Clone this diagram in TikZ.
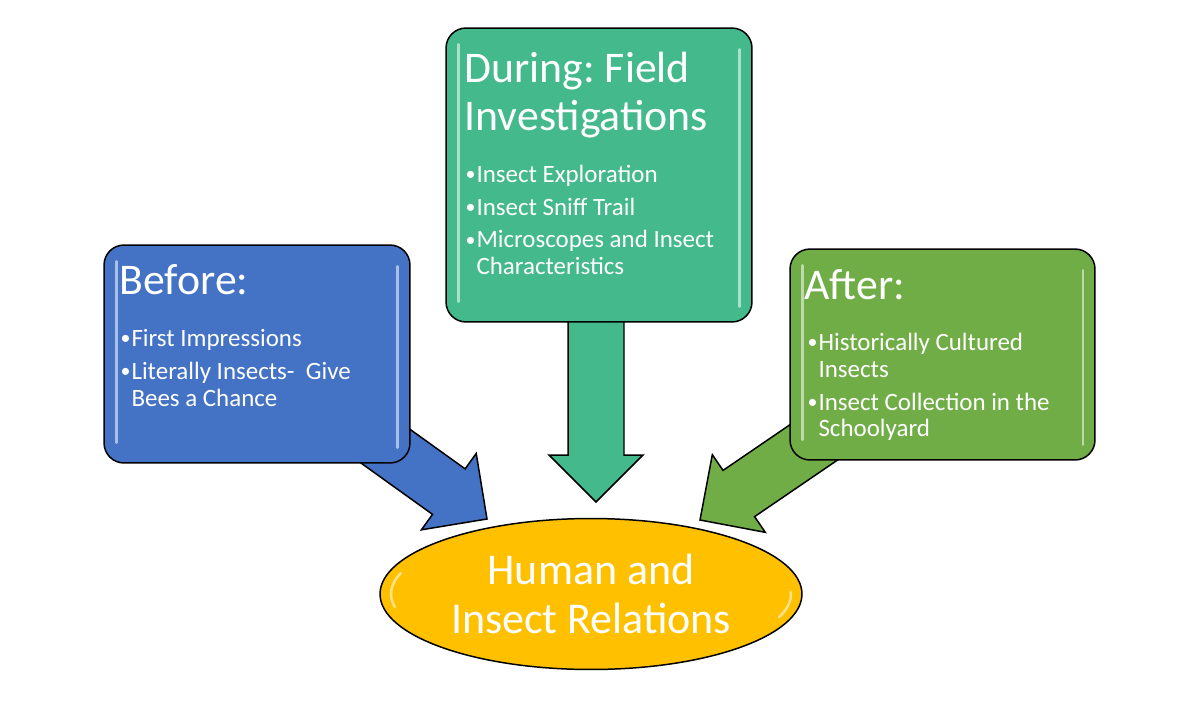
\documentclass[tikz,border=0pt]{standalone}
\usepackage{fontspec}
\setmainfont{Carlito}
\usetikzlibrary{calc,shapes.geometric,backgrounds}
\tikzset{>=latex}
\frenchspacing

\definecolor{beforeblue}{RGB}{68,114,196}
\definecolor{duringgreen}{RGB}{67,185,140}
\definecolor{aftergreen}{RGB}{112,173,71}
\definecolor{centregold}{RGB}{255,192,0}

\newcommand\bitem[1]{\par\hangindent=6.2pt\hangafter=1\noindent
  \makebox[6.2pt][l]{\raisebox{0.08em}{\scalebox{0.8}{\textbullet}}}#1}
\newcommand\itemlist[1]{\vtop{\hsize=6cm\parskip=3.4pt\relax#1\par}}
% broad arrow from #1 to #2, filled with #3
\newcommand\fatarrow[3]{%
  \coordinate (h) at ($(#2)!0.94cm!(#1)$);
  \draw[fill=#3,line width=0.85pt,line join=miter]
    ($(#1)!0.56cm!90:(#2)$) -- ($(h)!0.56cm!90:(#2)$) -- ($(h)!0.94cm!90:(#2)$) -- (#2)
    -- ($(h)!0.94cm!-90:(#2)$) -- ($(h)!0.56cm!-90:(#2)$) -- ($(#1)!0.56cm!-90:(#2)$) -- cycle;}

\begin{document}
\begin{tikzpicture}[x=0.02cm,y=-0.02cm,
  box/.style={draw,line width=0.85pt,rounded corners=0.4cm,inner sep=0pt},
  head/.style={anchor=base west,inner sep=0pt,text=white,font=\fontsize{24.9}{27.2}\selectfont},
  items/.style={anchor=base west,inner sep=0pt,text=white,font=\fontsize{14.2}{15.3}\selectfont},
  gloss/.style={white,opacity=0.55,line width=1.4pt,line cap=round}]
  \useasboundingbox (0,0) rectangle (1200,700);

  \node[box,fill=beforeblue,minimum width=6.12cm,minimum height=4.36cm] (before) at (257,354) {};
  \node[box,fill=duringgreen,minimum width=6.12cm,minimum height=5.88cm] (during) at (599,175) {};
  \node[box,fill=aftergreen,minimum width=6.1cm,minimum height=4.22cm] (after) at (942.5,354.5) {};
  \node[draw,ellipse,line width=0.85pt,fill=centregold,inner sep=0pt,
    minimum width=8.44cm,minimum height=3.02cm] (centre) at (591,594) {};

  \foreach \b in {before,during,after} {
    \draw[gloss] ([shift={(13,17)}]\b.north west) -- ([shift={(13,-21)}]\b.south west);
    \draw[gloss] ([shift={(-13,22)}]\b.north east) -- ([shift={(-13,-16)}]\b.south east);
  }
  \draw[gloss] ($(centre)+(162:4cm and 1.36cm)$) arc[start angle=162,end angle=191,x radius=4cm,y radius=1.36cm];
  \draw[gloss] ($(centre)+(-20:4cm and 1.36cm)$) arc[start angle=-20,end angle=2,x radius=4cm,y radius=1.36cm];

  \coordinate (beforetip) at (487,519);
  \coordinate (duringtip) at (596,502);
  \coordinate (aftertip) at (700,520);
  \begin{scope}[on background layer]
    \fatarrow{before.center}{beforetip}{beforeblue}
    \fatarrow{duringtip |- during.center}{duringtip}{duringgreen}
    \fatarrow{after.center}{aftertip}{aftergreen}
  \end{scope}

  \node[head] (beforehead) at ([shift={(16,50)}]before.north west) {Before:};
  \node[items] (beforeitems) at ([shift={(17,102)}]before.north west)
    {\itemlist{\bitem{First Impressions}\bitem{Literally Insects-\ \ Give\\Bees a Chance}}};
  \node[head] (duringhead) at ([shift={(19,55)}]during.north west)
    {\vtop{\hbox{During: Field}\hbox{Investigations}}};
  \node[items] (duringitems) at ([shift={(20,155)}]during.north west)
    {\itemlist{\bitem{Insect Exploration}\bitem{Insect Sniff Trail}\bitem{Microscopes and Insect\\Characteristics}}};
  \node[head] (afterhead) at ([shift={(15,51)}]after.north west) {After:};
  \node[items] (afteritems) at ([shift={(18,102)}]after.north west)
    {\itemlist{\bitem{Historically Cultured\\Insects}\bitem{Insect Collection in the\\Schoolyard}}};
  \node[text=white,align=center,font=\fontsize{25}{27.8}\selectfont] (centretext) at (centre)
    {Human and\\Insect Relations};
\end{tikzpicture}
\end{document}
